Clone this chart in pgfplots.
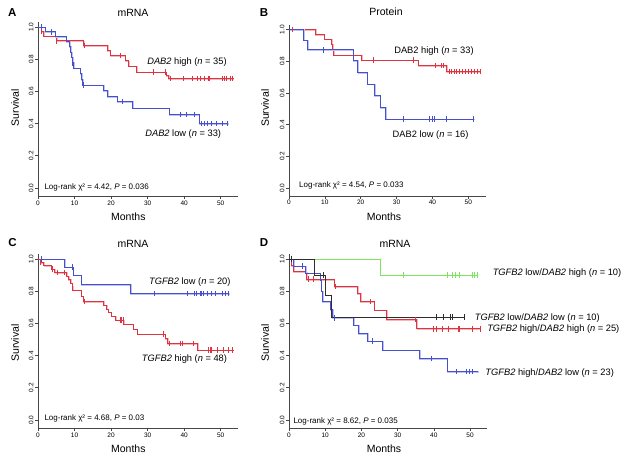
\documentclass[border=0pt]{standalone}
\usepackage{pgfplots}
\pgfplotsset{compat=1.18}
\usepackage{fontspec}
\setmainfont{Liberation Sans}
\definecolor{kmred}{RGB}{222,52,66}
\definecolor{kmblue}{RGB}{70,80,205}
\definecolor{kmgreen}{RGB}{125,228,95}
\definecolor{kmblack}{RGB}{45,45,45}
\definecolor{axgray}{RGB}{70,70,70}
\pgfplotsset{
  km/.style={
    scale only axis, anchor=south west,
    axis x line*=bottom, axis y line*=left,
    axis line style={draw=axgray, line width=0.6pt},
    tick style={draw=axgray, line width=0.6pt},
    tick align=outside, major tick length=3pt,
    xmin=0, ymin=-0.05, ymax=1.03,
    xtick={0,10,20,30,40,50}, ytick={0,0.2,0.4,0.6,0.8,1.0},
    /pgf/number format/assume math mode=true,
    xticklabel style={font=\fontsize{6.5}{7}\selectfont, inner sep=1.3pt},
    yticklabel style={font=\fontsize{6.5}{7}\selectfont, rotate=90, anchor=south, inner sep=1.3pt},
    y tick label style={/pgf/number format/fixed, /pgf/number format/fixed zerofill, /pgf/number format/precision=1},
    clip=false,
  },
  kmline/.style={const plot, line width=0.75pt, mark=none, draw=#1},
  kmhalo/.style={const plot, line width=1.5pt, mark=none, draw=#1!35, xshift=0.5pt, yshift=-0.5pt},
  kmcens/.style={only marks, mark=|, mark size=2.8pt, mark options={draw=#1, line width=0.6pt}},
}
\newcommand{\km}[2]{\addplot[kmhalo=#1] coordinates {#2};\addplot[kmline=#1] coordinates {#2};}
\newcommand{\ann}{\fontsize{9.3}{10}\selectfont}
\newcommand{\lr}{\fontsize{8}{9}\selectfont}
\newcommand{\ttl}{\fontsize{10.5}{12}\selectfont}
\newcommand{\pl}{\fontsize{11.5}{13}\selectfont\bfseries}
\begin{document}
\begin{tikzpicture}
\useasboundingbox (0pt,0pt) rectangle (629pt,464pt);
% ---------------- Panel A ----------------
\begin{axis}[km, at={(38pt,267.95pt)}, width=199.7pt, height=173.9pt, xmax=54.65]
\km{kmred}{(0,1)(0.8,0.971)(1.5,0.943)(5.0,0.914)(12.5,0.886)(19.0,0.855)(19.7,0.823)(23.8,0.79)(24.8,0.757)(27.0,0.72)(35.0,0.70)(35.7,0.68)(53.5,0.68)}
\addplot[kmcens=kmred] coordinates {(0.9,0.971)(5.1,0.914)(12.7,0.886)(22.4,0.823)(31.5,0.72)(34.7,0.72)(36.2,0.68)(39.8,0.68)(42.1,0.68)(43.5,0.68)(44.4,0.68)(45.5,0.68)(46.6,0.68)(47.0,0.68)(50.3,0.68)(50.9,0.68)(51.6,0.68)(52.5,0.68)(53.2,0.68)};
\km{kmblue}{(0,1)(1.9,0.97)(4.7,0.94)(7.7,0.909)(8.6,0.878)(8.9,0.845)(9.2,0.812)(9.5,0.778)(9.7,0.745)(11.5,0.71)(11.9,0.675)(12.2,0.64)(17.9,0.604)(19.0,0.567)(21.6,0.536)(25.9,0.497)(35.9,0.457)(44.1,0.40)(52.0,0.40)}
\addplot[kmcens=kmblue] coordinates {(0.8,1)(3.7,0.97)(9.5,0.778)(12.4,0.64)(23.2,0.536)(38.9,0.457)(40.5,0.457)(42.8,0.457)(44.8,0.4)(45.5,0.4)(46.2,0.4)(47.5,0.4)(48.9,0.4)(50.3,0.4)(51.7,0.4)};
\end{axis}
% ---------------- Panel B ----------------
\begin{axis}[km, at={(289pt,268.1pt)}, width=196.5pt, height=170.95pt, xmax=54.8]
\km{kmred}{(0,1)(7.4,0.97)(9.8,0.94)(11.8,0.91)(12.2,0.875)(12.5,0.84)(20.2,0.808)(36,0.775)(43.9,0.737)(53.5,0.737)}
\addplot[kmcens=kmred] coordinates {(0.9,1)(23.4,0.808)(34.7,0.808)(40.9,0.775)(42.5,0.775)(43.0,0.775)(44.6,0.737)(45.3,0.737)(46.0,0.737)(46.7,0.737)(47.4,0.737)(48.3,0.737)(49.3,0.737)(49.9,0.737)(50.7,0.737)(51.6,0.737)(52.5,0.737)(53.4,0.737)};
\km{kmblue}{(0,1)(4.0,0.935)(5.1,0.873)(17.9,0.805)(19.2,0.73)(21.8,0.656)(23.9,0.582)(25.4,0.51)(27,0.436)(51.6,0.436)}
\addplot[kmcens=kmblue] coordinates {(9.6,0.873)(31.9,0.436)(39,0.436)(40,0.436)(40.4,0.436)(43.9,0.436)(51.4,0.436)};
\end{axis}
% ---------------- Panel C ----------------
\begin{axis}[km, at={(38pt,35.95pt)}, width=199.7pt, height=173.9pt, xmax=54.65]
\km{kmblue}{(0,1)(7.3,0.95)(9.6,0.9)(11.8,0.84)(25.3,0.785)(52.4,0.785)}
\addplot[kmcens=kmblue] coordinates {(0.9,1)(9.4,0.95)(31.8,0.785)(40.8,0.785)(42.7,0.785)(43.4,0.785)(44.3,0.785)(44.8,0.785)(45.1,0.785)(46.2,0.785)(47.3,0.785)(48.5,0.785)(50.3,0.785)(51.2,0.785)(52.1,0.785)};
\km{kmred}{(0,1)(0.8,0.979)(1.6,0.958)(3.6,0.937)(4.6,0.916)(7.8,0.894)(8.4,0.872)(8.9,0.85)(9.3,0.828)(9.5,0.806)(11.8,0.77)(12.3,0.737)(17.9,0.714)(18.7,0.69)(19.2,0.67)(20.0,0.645)(21.2,0.62)(23.5,0.596)(26.0,0.565)(27.1,0.534)(34.8,0.507)(35.5,0.476)(43.6,0.435)(53.5,0.435)}
\addplot[kmcens=kmred] coordinates {(0.6,0.979)(3.9,0.937)(5.4,0.916)(7.3,0.916)(12.6,0.737)(22.4,0.62)(22.9,0.62)(23.3,0.62)(34.4,0.534)(36.0,0.476)(38.9,0.476)(39.4,0.476)(42.4,0.476)(46.6,0.435)(47.1,0.435)(47.4,0.435)(49.2,0.435)(50.7,0.435)(52.1,0.435)(53.3,0.435)};
\end{axis}
% ---------------- Panel D ----------------
\begin{axis}[km, at={(289pt,35.95pt)}, width=197.7pt, height=173.9pt, xmax=54.6]
\km{kmgreen}{(0,1)(25.1,0.9)(52,0.9)}
\addplot[kmcens=kmgreen] coordinates {(31.6,0.9)(43.7,0.9)(45.1,0.9)(45.8,0.9)(47,0.9)(50.6,0.9)(51.1,0.9)(52,0.9)};
\km{kmred}{(0,1)(0.6,0.96)(1.3,0.92)(4.9,0.874)(12.4,0.828)(18.9,0.787)(19.8,0.735)(23.5,0.683)(26.9,0.625)(35.3,0.567)(52.9,0.567)}
\addplot[kmcens=kmred] coordinates {(5.2,0.874)(6.8,0.874)(12.8,0.828)(22.4,0.735)(35.0,0.625)(39.9,0.567)(40.6,0.567)(42.2,0.567)(44,0.567)(46.8,0.567)(47.0,0.567)(50.5,0.567)(52.9,0.567)};
\km{kmblue}{(0,1)(1.2,0.957)(4.6,0.913)(8.6,0.87)(8.9,0.80)(9.3,0.735)(11.3,0.685)(12.0,0.635)(17.8,0.59)(19.2,0.538)(21.7,0.49)(25.9,0.435)(36,0.383)(43.7,0.30)(52.2,0.30)}
\addplot[kmcens=kmblue] coordinates {(3.7,0.957)(12.4,0.635)(22.9,0.49)(39.2,0.383)(46.3,0.30)(49.1,0.30)(49.7,0.30)(50.6,0.30)};
\addplot[kmline=kmblack] coordinates {(0,1)(7.1,0.9)(10.0,0.771)(11.8,0.638)(48.6,0.638)};
\addplot[kmcens=kmblack] coordinates {(0.5,1)(9.5,0.9)(40.8,0.638)(42.7,0.638)(44.5,0.638)(45.1,0.638)(48.3,0.638)};
\end{axis}
% ---------------- Text ----------------
\begin{scope}[x=1pt,y=1pt]
\node[font=\pl] at (12.3,{464-12.2}) {A};
\node[font=\pl] at (264,{464-12.2}) {B};
\node[font=\pl] at (12.5,{464-243}) {C};
\node[font=\pl] at (264,{464-243}) {D};
\node[font=\ttl] at (133,{464-12.7}) {mRNA};
\node[font=\ttl] at (386,{464-11.7}) {Protein};
\node[font=\ttl] at (133,{464-244}) {mRNA};
\node[font=\ttl] at (395,{464-244}) {mRNA};
\node[font=\ttl] at (128.3,{464-216.7}) {Months};
\node[font=\ttl] at (384,{464-216.7}) {Months};
\node[font=\ttl] at (128.3,{464-448.3}) {Months};
\node[font=\ttl] at (384,{464-448.3}) {Months};
\node[font=\ttl, rotate=90] at (15,{464-107.5}) {Survival};
\node[font=\ttl, rotate=90] at (265,{464-108.3}) {Survival};
\node[font=\ttl, rotate=90] at (15,{464-343}) {Survival};
\node[font=\ttl, rotate=90] at (265,{464-343}) {Survival};
\node[font=\lr, anchor=west, inner sep=0pt] at (44.3,{464-187.3}) {Log-rank χ² = 4.42, \textit{P} = 0.036};
\node[font=\lr, anchor=west, inner sep=0pt] at (299,{464-185.5}) {Log-rank χ² = 4.54, \textit{P} = 0.033};
\node[font=\lr, anchor=west, inner sep=0pt] at (44.3,{464-418.7}) {Log-rank χ² = 4.68, \textit{P} = 0.03};
\node[font=\lr, anchor=west, inner sep=0pt] at (293.3,{464-421}) {Log-rank χ² = 8.62, \textit{P} = 0.035};
\node[font=\ann] at (187,{464-62.3}) {\textit{DAB2} high (\textit{n} = 35)};
\node[font=\ann] at (183.2,{464-134}) {\textit{DAB2} low (\textit{n} = 33)};
\node[font=\ann] at (434,{464-50.7}) {DAB2 high (\textit{n} = 33)};
\node[font=\ann] at (430.6,{464-135.3}) {DAB2 low (\textit{n} = 16)};
\node[font=\ann] at (189.8,{464-281.7}) {\textit{TGFB2} low (\textit{n} = 20)};
\node[font=\ann] at (184.5,{464-359.3}) {\textit{TGFB2} high (\textit{n} = 48)};
\node[font=\ann] at (557,{464-273.3}) {\textit{TGFB2} low/\textit{DAB2} high (\textit{n} = 10)};
\node[font=\ann] at (537.3,{464-317.7}) {\textit{TGFB2} low/\textit{DAB2} low (\textit{n} = 10)};
\node[font=\ann] at (553.3,{464-329.3}) {\textit{TGFB2} high/\textit{DAB2} high (\textit{n} = 25)};
\node[font=\ann] at (549.7,{464-372.7}) {\textit{TGFB2} high/\textit{DAB2} low (\textit{n} = 23)};
\end{scope}
\end{tikzpicture}
\end{document}
